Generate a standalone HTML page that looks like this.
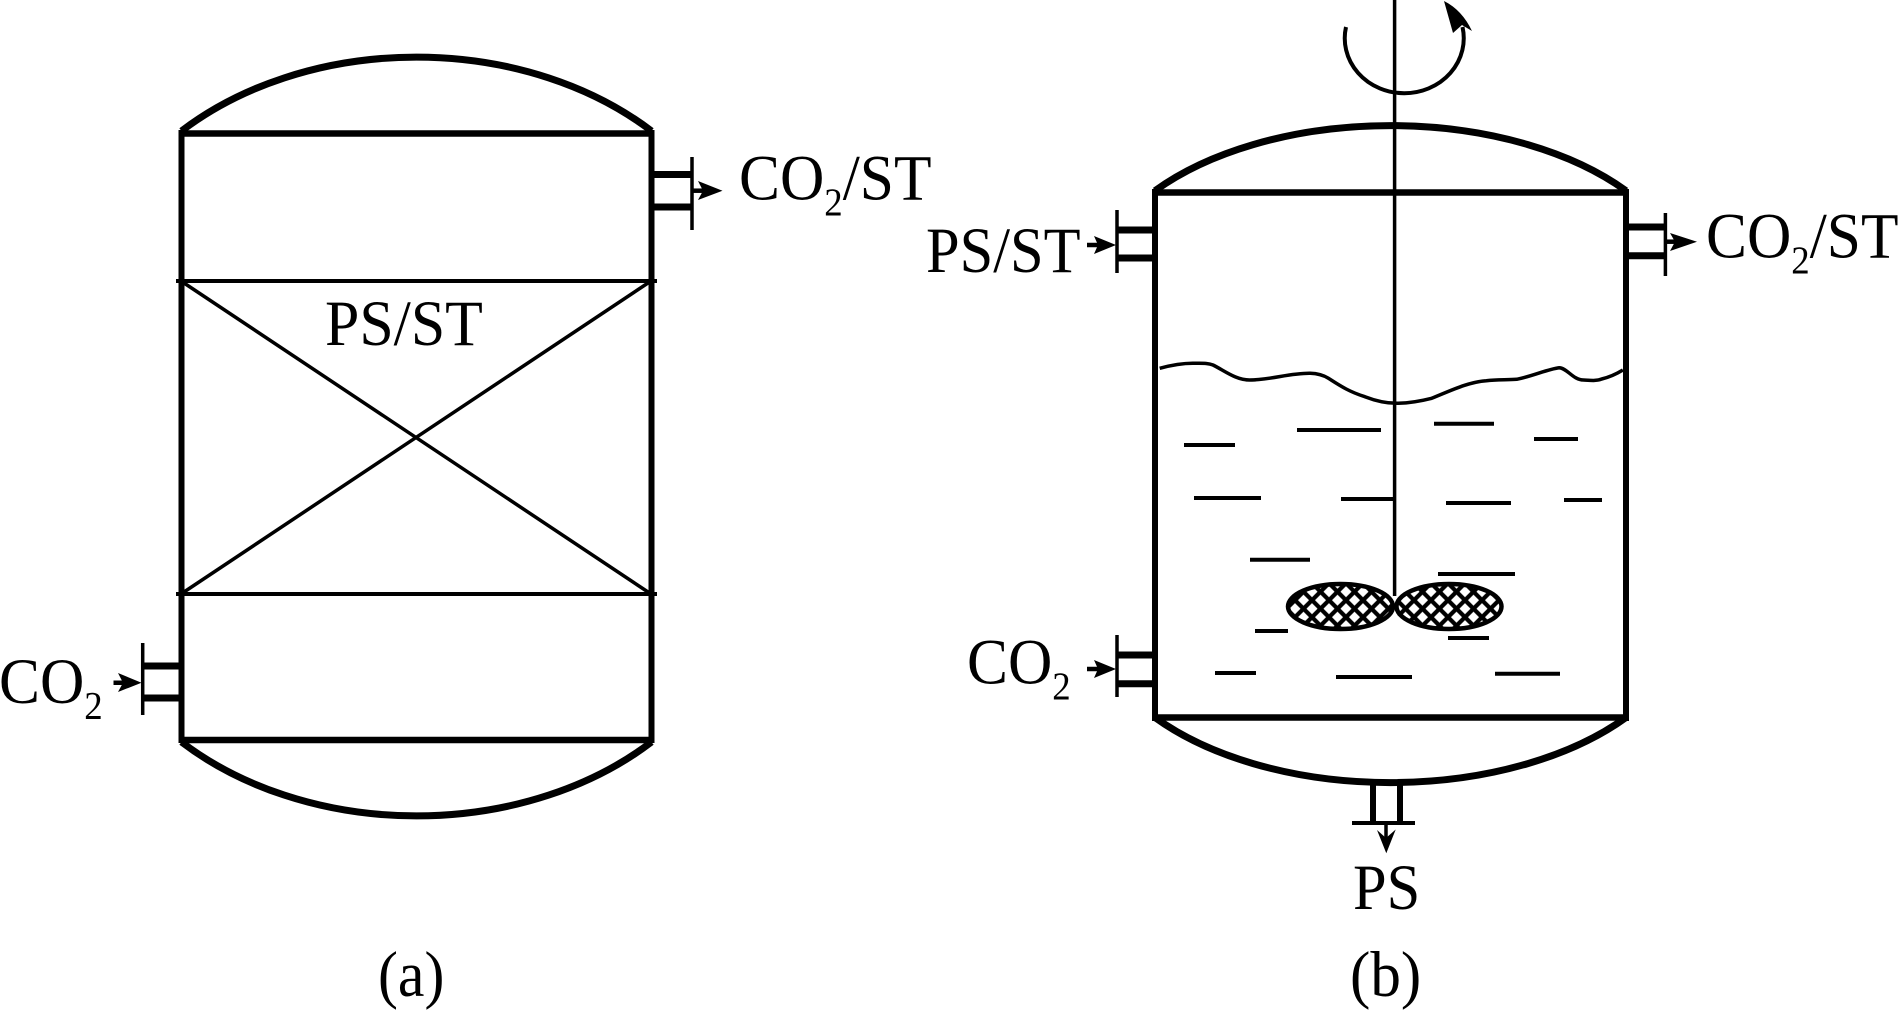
<!DOCTYPE html>
<html>
<head>
<meta charset="utf-8">
<style>
html,body{margin:0;padding:0;background:#fff;width:1904px;height:1015px;overflow:hidden}
svg{display:block}
text{font-family:"Liberation Serif",serif;font-size:65px;fill:#000}
.sub{font-size:39px}
</style>
</head>
<body>
<svg width="1904" height="1015" viewBox="0 0 1904 1015" xmlns="http://www.w3.org/2000/svg">
<defs>
<pattern id="mesh" patternUnits="userSpaceOnUse" x="1320.5" y="591.7" width="17" height="17">
<path d="M-4,-4L21,21M21,-4L-4,21" stroke="#000" stroke-width="4.200" fill="none"/>
</pattern>
</defs>
<rect width="1904" height="1015" fill="#fff"/>

<!-- Vessel A -->
<g fill="none" stroke="#000">
<path d="M181.500,131A330,248 0 0 1 651.500,131" stroke-width="7"/>
<path d="M181.500,742A330,248 0 0 0 651.500,742" stroke-width="7"/>
<path d="M181.500,130V743M651.500,130V743" stroke-width="6"/>
<path d="M181,133.500H652M181,740H652" stroke-width="6.500"/>
<path d="M176,281H657M176,594H657" stroke-width="4"/>
<path d="M181,281L651,594M651,281L181,594" stroke-width="3.500"/>
<!-- top right nozzle -->
<path d="M651,174.500H692M651,207H692" stroke-width="7"/>
<path d="M692,157V230" stroke-width="3.500"/>
<path d="M692,190.700H705" stroke-width="4.500"/>
<!-- left nozzle -->
<path d="M143,666H181M143,698H181" stroke-width="7"/>
<path d="M142.700,643V715" stroke-width="3.500"/>
<path d="M113.500,682.700H130" stroke-width="4.500"/>
</g>
<path d="M722.500,190.700L698,181L703,190.700L698,200Z" fill="#000"/>
<path d="M141.500,682.700L118,673L123,682.700L118,692Z" fill="#000"/>

<text transform="translate(739,199.500) scale(0.945,1)">CO<tspan class="sub" dy="15.500">2</tspan><tspan dy="-15.500">/ST</tspan></text>
<text transform="translate(325,345) scale(0.95,1)">PS/ST</text>
<text transform="translate(-1,703) scale(0.945,1)">CO<tspan class="sub" dy="15.500">2</tspan></text>
<text transform="translate(378,996) scale(0.92,1)">(a)</text>

<!-- Vessel B -->
<g fill="none" stroke="#000">
<path d="M1155,190.700A300,171 0 0 1 1626,190.700" stroke-width="7"/>
<path d="M1155,717.500A300,171 0 0 0 1626,717.500" stroke-width="7"/>
<path d="M1155,189V721M1626,189V721" stroke-width="6"/>
<path d="M1155,192.500H1626M1155,717.500H1626" stroke-width="6.500"/>
<path d="M1394.600,0V596" stroke-width="3.500"/>
<!-- rotation arrow -->
<path d="M1346,27A59.500,55 0 1 0 1462.500,27" stroke-width="4"/>
<!-- liquid surface -->
<path d="M1159.700,368.300C1172,365 1184,363 1194.900,363.300C1203,363.300 1208,363 1213,365C1225,371 1236,380 1249.500,380C1270,380 1290,373 1310.200,373.300C1318,373.500 1323,375 1328.400,378.300C1342,387 1350,392 1364.900,396.700C1376,401 1387,403.500 1398.300,403.300C1410,403 1421,401 1431.700,398.300C1450,391 1468,382 1486.300,380.700C1497,379.500 1507,380 1516.700,379.300C1533,376 1548,369 1559.200,367.700C1567,368 1573,380 1583.500,380C1592,380.500 1597,381 1601.700,379C1610,377 1618,373 1622.900,370" stroke-width="3.500"/>
<!-- nozzles -->
<path d="M1117,230H1155M1117,258H1155" stroke-width="7"/>
<path d="M1117,210V273" stroke-width="3.500"/>
<path d="M1087,245H1103" stroke-width="4.500"/>
<path d="M1626,227H1665M1626,255.700H1665" stroke-width="7"/>
<path d="M1665.400,213V276" stroke-width="3.500"/>
<path d="M1665,241.700H1680" stroke-width="4.500"/>
<path d="M1117,655H1155M1117,683.700H1155" stroke-width="7"/>
<path d="M1117,635V697" stroke-width="3.500"/>
<path d="M1087,669H1103" stroke-width="4.500"/>
<path d="M1373,783V823M1400,783V823" stroke-width="6"/>
<path d="M1352,823H1415" stroke-width="4"/>
<path d="M1386,823V840" stroke-width="3.500"/>
<!-- dashes -->
<path d="M1297,430H1381M1184,445H1235M1434,423.700H1494M1534,439H1578M1194,498H1261M1341,499H1395M1446,503H1511M1564,500H1602M1250,559.700H1310M1438,574H1515M1255,631H1288M1448,638H1489M1215,673H1256M1336,677H1412M1495,673.700H1560" stroke-width="4"/>
</g>
<!-- arrowheads -->
<path d="M1444,1L1453,33L1462,25L1472,31Q1462,10 1444,1Z" fill="#000"/>
<path d="M1116,245L1094,236L1098,245L1094,254Z" fill="#000"/>
<path d="M1697,241.700L1670,233L1675,241.700L1670,251Z" fill="#000"/>
<path d="M1116,669L1094,660L1098,669L1094,678Z" fill="#000"/>
<path d="M1386.300,853.300L1377,830L1386,838L1395.700,829.500Z" fill="#000"/>
<!-- impeller -->
<ellipse cx="1340.500" cy="606.500" rx="52.500" ry="22.500" fill="url(#mesh)" stroke="#000" stroke-width="4.500"/>
<ellipse cx="1449" cy="606.500" rx="52.500" ry="22.500" fill="url(#mesh)" stroke="#000" stroke-width="4.500"/>

<text transform="translate(926,272) scale(0.93,1)">PS/ST</text>
<text transform="translate(1706,257.700) scale(0.945,1)">CO<tspan class="sub" dy="15.500">2</tspan><tspan dy="-15.500">/ST</tspan></text>
<text transform="translate(967,683.700) scale(0.945,1)">CO<tspan class="sub" dy="15.500">2</tspan></text>
<text transform="translate(1353,909) scale(0.93,1)">PS</text>
<text transform="translate(1350,996) scale(0.94,1)">(b)</text>
</svg>
</body>
</html>
